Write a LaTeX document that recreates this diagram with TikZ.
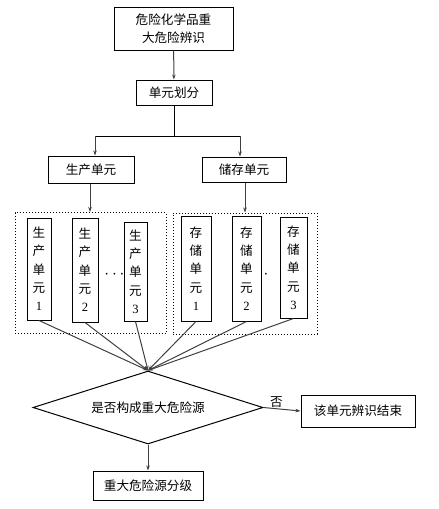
\documentclass[tikz,border=0pt]{standalone}
\usepackage{fontspec}
\setmainfont{Noto Sans CJK SC}
\newfontfamily\numfont{Liberation Serif}
\usetikzlibrary{shapes.geometric,arrows.meta}
\tikzset{
  box/.style={draw, line width=1pt, inner sep=2pt, align=center},
  unitbox/.style={draw, line width=1pt, inner sep=0pt, align=center},
  group/.style={draw, dotted, line width=1pt},
  arr/.style={-{Stealth[length=5pt,width=3.5pt]}, line width=1pt, draw=black!75}
}
\begin{document}
\begin{tikzpicture}[x=1pt,y=-1pt,font=\fontsize{12.6}{18.3}\selectfont]
  \useasboundingbox (0,0) rectangle (439,509);
  % Nodos
  \node[box, minimum width=119pt, minimum height=43pt] (ident) at (173.5,28.5) {危险化学品重\\大危险辨识};
  \node[box, minimum width=76pt, minimum height=25pt] (split) at (174,92.5) {单元划分};
  \node[box, minimum width=86pt, minimum height=27pt] (prod) at (91,169.5) {生产单元};
  \node[box, minimum width=84pt, minimum height=25pt] (stor) at (244,169.5) {储存单元};

  \node[group, minimum width=151pt, minimum height=121pt] (grpP) at (90.5,273) {};
  \node[group, minimum width=144pt, minimum height=121pt] (grpS) at (245,273.5) {};

  \node[unitbox, minimum width=24pt, minimum height=102pt] (p1) at (39,269) {生\\产\\单\\元\\{\numfont 1}};
  \node[unitbox, minimum width=26pt, minimum height=104pt] (p2) at (85,270) {生\\产\\单\\元\\{\numfont 2}};
  \node[unitbox, minimum width=23pt, minimum height=99pt] (p3) at (135.5,271.5) {生\\产\\单\\元\\{\numfont 3}};
  \node[font=\fontsize{17}{17}\selectfont] (pdots) at (114.5,275) {$\cdots$};
  \node[unitbox, minimum width=30pt, minimum height=105pt] (s1) at (196,268.5) {存\\储\\单\\元\\{\numfont 1}};
  \node[unitbox, minimum width=29pt, minimum height=105pt] (s2) at (246.5,268.5) {存\\储\\单\\元\\{\numfont 2}};
  \node[unitbox, minimum width=27pt, minimum height=101pt] (s3) at (293.5,267.5) {存\\储\\单\\元\\{\numfont 3}};
  \node[font=\fontsize{17}{17}\selectfont] (sdot) at (266,275) {$\cdot$};

  \node[draw, diamond, line width=1pt, aspect=3.15, minimum width=230pt, minimum height=73pt, inner sep=0pt] (judge) at (148,407.5) {是否构成重大危险源};
  \node[box, minimum width=114pt, minimum height=32pt] (finish) at (358,411) {该单元辨识结束};
  \node[box, minimum width=110pt, minimum height=29pt] (grade) at (148,485.5) {重大危险源分级};

  \coordinate (jl) at (95,136);
  \coordinate (jr) at (240,136);

  % Conexiones
  \draw[arr] (ident) -- (split);
  \draw[line width=1pt] (split.south) -- (split.south |- jl);
  \draw[line width=1pt] (jl) -- (jr);
  \draw[arr] (jl) -- (jl |- prod.north);
  \draw[arr] (jr) -- (jr |- stor.north);
  \draw[arr] (prod.south -| 90,0) -- (grpP.north -| 90,0);
  \draw[arr] (stor.south -| 245,0) -- (grpS.north -| 245,0);

  \foreach \u in {p1,p2,p3,s1,s2,s3}
    \draw[arr] (\u.south) -- (judge.north);

  \draw[arr] (judge.east) -- (finish.west) node[pos=0.35, above, inner sep=1pt] {否};
  \draw[arr] (judge.south) -- (grade.north);
\end{tikzpicture}
\end{document}
